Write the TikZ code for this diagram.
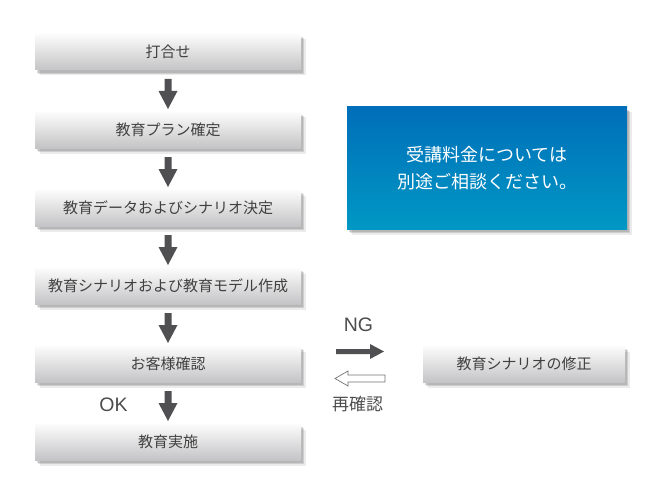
\documentclass[tikz,border=0pt]{standalone}
\usepackage{fontspec}
\setmainfont{Noto Sans CJK JP}
\newfontfamily\latinfont{Liberation Sans}
\usetikzlibrary{shadows,positioning,calc}
\definecolor{arrowgray}{RGB}{80,80,82}
\definecolor{boxtop}{RGB}{252,252,252}
\definecolor{boxbot}{RGB}{196,196,198}
\definecolor{bluetop}{RGB}{0,110,185}
\definecolor{bluebot}{RGB}{0,152,196}
\tikzset{
  softshadow/.style={
    drop shadow={shadow xshift=2pt, shadow yshift=-3pt, fill=black, opacity=0.12},
    drop shadow={shadow xshift=3pt, shadow yshift=-4pt, fill=black, opacity=0.12},
    drop shadow={shadow xshift=4.5pt, shadow yshift=-5.5pt, fill=black, opacity=0.08}},
  stepbox/.style={minimum width=266pt, minimum height=36pt, inner sep=0pt,
    top color=boxtop, bottom color=boxbot, font=\fontsize{15}{17}\selectfont, text=black!75,
    softshadow},
  downarrow/.style={fill=arrowgray, draw=none},
  lbl/.style={font=\latinfont\fontsize{19.5}{21}\selectfont, text=black!70},
}
\begin{document}
\begin{tikzpicture}[x=1pt,y=-1pt]
\useasboundingbox (0,0) rectangle (650,500);
\node[stepbox] (s1) at (168,52) {打合せ};
\node[stepbox] (s2) at (168,130) {教育プラン確定};
\node[stepbox] (s3) at (168,208) {教育データおよびシナリオ決定};
\node[stepbox] (s4) at (168,286) {教育シナリオおよび教育モデル作成};
\node[stepbox] (s5) at (168,364) {お客様確認};
\node[stepbox] (s6) at (168,442) {教育実施};
\node[stepbox, minimum width=202pt] (fix) at (524,364) {教育シナリオの修正};
\node[minimum width=280pt, minimum height=122pt, top color=bluetop, bottom color=bluebot,
  text=white, align=center, font=\fontsize{18}{27}\selectfont, softshadow] (fee) at (487,168)
  {受講料金については\\別途ご相談ください。};
% down arrows
\foreach \a/\b in {s1/s2,s2/s3,s3/s4,s4/s5,s5/s6}{
  \coordinate (t) at ($(\a.south)!0.5!(\b.north)$);
  \fill[downarrow] ([shift={(-3.5,-12)}]t) -- ([shift={(3.5,-12)}]t) -- ([shift={(3.5,0)}]t)
     -- ([shift={(9.5,0)}]t) -- ([shift={(0,18)}]t) -- ([shift={(-9.5,0)}]t) -- ([shift={(-3.5,0)}]t) -- cycle;
}
% NG arrow
\fill[downarrow] (336,349) -- (370,349) -- (370,344) -- (384,351.5) -- (370,359) -- (370,354) -- (336,354) -- cycle;
\draw[arrowgray!80, fill=white, line width=0.7pt] (385,375) -- (348,375) -- (348,371) -- (335,378.5) -- (348,386) -- (348,382) -- (385,382) -- cycle;
\node[lbl] (ngl) at (358.5,324.5) {NG};
\node[font=\fontsize{17}{19}\selectfont, text=black!70] (rc) at (357.5,404) {再確認};
\node[lbl] (ok) at (113.5,404.5) {OK};
\end{tikzpicture}
\end{document}
